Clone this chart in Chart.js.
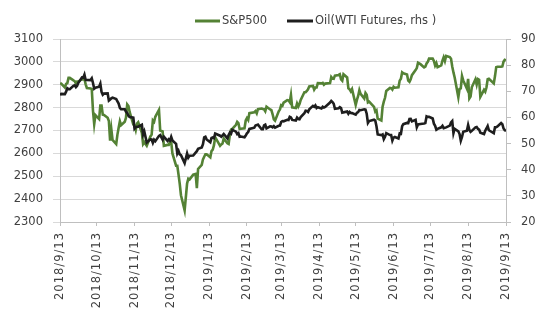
<!DOCTYPE html>
<html>
<head>
<meta charset="utf-8">
<script src="https://cdn.jsdelivr.net/npm/chart.js@4/dist/chart.umd.min.js"></script>
<style>
html,body{margin:0;padding:0;background:#fff;}
canvas{display:block;}
</style>
</head>
<body>
<canvas id="c" width="548" height="324"></canvas>
<script>
// Trading dates
const dates = [
"2018/9/13","2018/9/14","2018/9/17","2018/9/18","2018/9/19","2018/9/20","2018/9/21","2018/9/24","2018/9/25","2018/9/26","2018/9/27","2018/9/28",
"2018/10/1","2018/10/2","2018/10/3","2018/10/4","2018/10/5","2018/10/8","2018/10/9","2018/10/10","2018/10/11","2018/10/12","2018/10/15","2018/10/16","2018/10/17","2018/10/18","2018/10/19","2018/10/22","2018/10/23","2018/10/24","2018/10/25","2018/10/26","2018/10/29","2018/10/30","2018/10/31",
"2018/11/1","2018/11/2","2018/11/5","2018/11/6","2018/11/7","2018/11/8","2018/11/9","2018/11/12","2018/11/13","2018/11/14","2018/11/15","2018/11/16","2018/11/19","2018/11/20","2018/11/21","2018/11/23","2018/11/26","2018/11/27","2018/11/28","2018/11/29","2018/11/30",
"2018/12/3","2018/12/4","2018/12/6","2018/12/7","2018/12/10","2018/12/11","2018/12/12","2018/12/13","2018/12/14","2018/12/17","2018/12/18","2018/12/19","2018/12/20","2018/12/21","2018/12/24","2018/12/26","2018/12/27","2018/12/28","2018/12/31",
"2019/1/2","2019/1/3","2019/1/4","2019/1/7","2019/1/8","2019/1/9","2019/1/10","2019/1/11","2019/1/14","2019/1/15","2019/1/16","2019/1/17","2019/1/18","2019/1/22","2019/1/23","2019/1/24","2019/1/25","2019/1/28","2019/1/29","2019/1/30","2019/1/31",
"2019/2/1","2019/2/4","2019/2/5","2019/2/6","2019/2/7","2019/2/8","2019/2/11","2019/2/12","2019/2/13","2019/2/14","2019/2/15","2019/2/19","2019/2/20","2019/2/21","2019/2/22","2019/2/25","2019/2/26","2019/2/27","2019/2/28",
"2019/3/1","2019/3/4","2019/3/5","2019/3/6","2019/3/7","2019/3/8","2019/3/11","2019/3/12","2019/3/13","2019/3/14","2019/3/15","2019/3/18","2019/3/19","2019/3/20","2019/3/21","2019/3/22","2019/3/25","2019/3/26","2019/3/27","2019/3/28","2019/3/29",
"2019/4/1","2019/4/2","2019/4/3","2019/4/4","2019/4/5","2019/4/8","2019/4/9","2019/4/10","2019/4/11","2019/4/12","2019/4/15","2019/4/16","2019/4/17","2019/4/18","2019/4/22","2019/4/23","2019/4/24","2019/4/25","2019/4/26","2019/4/29","2019/4/30",
"2019/5/1","2019/5/2","2019/5/3","2019/5/6","2019/5/7","2019/5/8","2019/5/9","2019/5/10","2019/5/13","2019/5/14","2019/5/15","2019/5/16","2019/5/17","2019/5/20","2019/5/21","2019/5/22","2019/5/23","2019/5/24","2019/5/28","2019/5/29","2019/5/30","2019/5/31",
"2019/6/3","2019/6/4","2019/6/5","2019/6/6","2019/6/7","2019/6/10","2019/6/11","2019/6/12","2019/6/13","2019/6/14","2019/6/17","2019/6/18","2019/6/19","2019/6/20","2019/6/21","2019/6/24","2019/6/25","2019/6/26","2019/6/27","2019/6/28",
"2019/7/1","2019/7/2","2019/7/3","2019/7/5","2019/7/8","2019/7/9","2019/7/10","2019/7/11","2019/7/12","2019/7/15","2019/7/16","2019/7/17","2019/7/18","2019/7/19","2019/7/22","2019/7/23","2019/7/24","2019/7/25","2019/7/26","2019/7/29","2019/7/30","2019/7/31",
"2019/8/1","2019/8/2","2019/8/5","2019/8/6","2019/8/7","2019/8/8","2019/8/9","2019/8/12","2019/8/13","2019/8/14","2019/8/15","2019/8/16","2019/8/19","2019/8/20","2019/8/21","2019/8/22","2019/8/23","2019/8/26","2019/8/27","2019/8/28","2019/8/29","2019/8/30",
"2019/9/3","2019/9/4","2019/9/5","2019/9/6","2019/9/9","2019/9/10","2019/9/11","2019/9/12","2019/9/13"
];

// S&P500 (left axis)
const sp500 = [
2904,2905,2888,2904,2907,2930,2930,2919,2916,2906,2914,2914,
2924,2923,2926,2902,2886,2884,2881,2786,2728,2767,2750,2809,2809,2769,2768,2756,2741,2656,2706,2659,2641,2682,2712,
2740,2723,2738,2756,2814,2807,2781,2726,2722,2702,2730,2736,2690,2641,2649,2633,2674,2682,2744,2738,2760,
2790,2700,2696,2633,2637,2637,2651,2650,2600,2546,2546,2507,2467,2417,2351,2468,2489,2486,2507,
2510,2448,2532,2550,2574,2585,2596,2596,2583,2610,2616,2636,2671,2633,2639,2643,2665,2644,2641,2681,2704,
2707,2725,2738,2732,2707,2708,2710,2744,2754,2746,2776,2780,2785,2775,2793,2796,2794,2793,2784,
2804,2792,2789,2771,2749,2743,2784,2792,2811,2808,2822,2833,2832,2824,2855,2801,2798,2818,2805,2816,2834,
2867,2867,2873,2880,2893,2895,2879,2888,2888,2907,2906,2908,2900,2905,2907,2934,2927,2926,2940,2943,2946,
2924,2918,2946,2932,2884,2880,2871,2881,2812,2834,2851,2876,2860,2840,2864,2856,2823,2826,2803,2783,2788,2752,
2744,2804,2826,2843,2873,2886,2885,2879,2891,2887,2889,2918,2926,2954,2950,2945,2918,2913,2924,2942,
2964,2973,2996,2990,2976,2979,2993,3000,3014,3014,3004,2984,2995,2977,2985,3005,3020,3004,3026,3021,3014,2980,
2954,2932,2845,2882,2884,2938,2919,2883,2926,2840,2848,2889,2924,2901,2925,2922,2847,2878,2870,2888,2924,2926,
2906,2938,2977,2979,2979,2980,3001,3009,3007
];

// Oil (WTI futures, right axis)
const wti = [
68.59,68.99,68.91,69.85,71.12,70.80,70.78,72.08,72.28,71.57,72.12,73.25,
75.30,75.23,76.41,74.33,74.34,74.29,74.96,73.17,70.97,71.34,71.78,72.92,69.75,68.65,69.12,69.17,66.43,66.82,67.33,67.59,67.04,66.18,65.31,
63.69,63.14,63.10,62.21,61.67,60.67,60.19,59.93,55.69,56.25,56.46,56.46,57.20,53.43,54.63,50.42,51.63,51.56,50.29,51.45,50.93,
52.95,53.25,51.49,52.61,51.00,51.65,51.15,52.58,51.20,49.88,46.24,47.20,45.88,45.59,42.53,46.22,44.61,45.33,45.41,
46.54,47.09,47.96,48.52,49.78,52.36,52.59,51.59,50.51,52.11,52.31,52.07,53.80,53.01,52.62,53.13,53.69,51.99,53.31,54.23,53.79,
55.26,54.56,53.66,54.01,52.64,52.72,52.41,53.10,53.90,54.41,55.59,56.09,56.92,57.07,57.26,55.48,55.50,56.94,57.22,
55.80,56.59,56.56,56.22,56.66,56.07,56.79,56.87,58.26,58.61,58.52,59.09,59.03,60.23,59.98,59.04,58.82,59.94,59.41,59.30,60.14,
61.59,62.58,62.46,62.10,63.08,64.40,64.05,64.61,63.58,63.89,63.40,64.05,63.76,64.00,65.70,66.30,65.89,65.21,63.30,63.50,63.91,
63.60,61.81,61.94,62.25,61.40,62.12,61.70,61.66,61.04,61.78,62.02,62.87,62.76,63.10,62.99,61.42,57.91,58.63,59.14,58.81,56.59,53.50,
53.25,53.48,51.68,52.59,53.99,53.26,53.27,51.14,52.28,52.51,51.93,53.90,53.76,56.65,57.43,57.90,57.83,59.38,59.43,58.47,
59.09,56.25,57.34,57.51,57.66,57.83,60.43,60.20,60.21,59.58,57.62,56.78,55.30,55.63,56.22,56.77,55.88,56.02,56.20,56.87,58.05,58.58,
53.95,55.66,54.69,53.63,51.09,52.54,54.50,54.93,57.10,55.23,54.47,54.87,56.21,56.34,55.68,55.35,54.17,53.64,54.93,55.78,56.71,55.10,
53.94,56.26,56.30,56.52,57.85,57.40,55.75,55.09,54.85
];

// Axis tick labels
const xTickLabels = ["2018/9/13","2018/10/13","2018/11/13","2018/12/13","2019/1/13","2019/2/13","2019/3/13","2019/4/13","2019/5/13","2019/6/13","2019/7/13","2019/8/13","2019/9/13"];
const leftTicks = [2300,2400,2500,2600,2700,2800,2900,3000,3100];
const rightTicks = [20,30,40,50,60,70,80,90];
const seriesNames = ["S&P500","Oil(WTI Futures, rhs )"];

function dayNum(s){
  const p = s.split('/').map(Number);
  return Date.UTC(p[0], p[1]-1, p[2]) / 86400000;
}
const day0 = dayNum(xTickLabels[0]);
const dayOf = s => dayNum(s) - day0;
const xTickPos = xTickLabels.map(dayOf);

const spPts = dates.map((d,i)=>({x:dayOf(d), y:sp500[i]}));
const oilPts = dates.map((d,i)=>({x:dayOf(d), y:wti[i]}));

const GREEN = '#548235';
const BLACK = '#1e1e1e';
const TEXT = '#404040';
const FONT = "'DejaVu Sans', sans-serif";

const legendPlugin = {
  id: 'customLegend',
  afterUpdate(chart){
    const xs = chart.scales.x;
    if (xs && !xs._wrapped){
      const orig = xs.drawLabels.bind(xs);
      xs.drawLabels = function(area){
        const c = chart.ctx;
        c.save();
        c.letterSpacing = '1px';
        orig(area);
        c.restore();
      };
      xs._wrapped = true;
    }
  },
  afterDraw(chart){
    const c = chart.ctx;
    c.save();
    c.letterSpacing = '0px';
    c.font = "11.5px " + FONT;
    c.textBaseline = 'middle';
    c.fillStyle = TEXT;
    const y = 21;
    const items = [
      {x1:195, x2:220, color:GREEN, text:seriesNames[0]},
      {x1:287, x2:313, color:BLACK, text:seriesNames[1]}
    ];
    items.forEach(it=>{
      c.strokeStyle = it.color;
      c.lineWidth = 3;
      c.beginPath();
      c.moveTo(it.x1, y);
      c.lineTo(it.x2, y);
      c.stroke();
      c.fillText(it.text, it.x2 + 2, y + 0.5);
    });
    c.restore();
  }
};

new Chart(document.getElementById('c'), {
  type: 'line',
  data: {
    datasets: [
      {label: seriesNames[0], data: spPts, yAxisID: 'y', borderColor: GREEN, backgroundColor: GREEN, borderWidth: 2.6, pointRadius: 0, tension: 0, order: 1},
      {label: seriesNames[1], data: oilPts, yAxisID: 'y1', borderColor: BLACK, backgroundColor: BLACK, borderWidth: 2.6, pointRadius: 0, tension: 0, order: 0}
    ]
  },
  options: {
    responsive: false,
    animation: false,
    devicePixelRatio: 1,
    layout: {padding: {top: 39, left: 0, right: 0, bottom: 0}},
    plugins: {legend: {display: false}, tooltip: {enabled: false}},
    scales: {
      x: {
        type: 'linear',
        min: xTickPos[0],
        max: xTickPos[xTickPos.length-1],
        afterBuildTicks: s => { s.ticks = xTickPos.map(v => ({value: v})); },
        afterFit: s => { s.height = 102; },
        ticks: {
          autoSkip: false, maxRotation: 90, minRotation: 90, padding: 6,
          color: TEXT, font: {family: FONT, size: 11.5},
          callback: v => { const i = xTickPos.indexOf(v); return i >= 0 ? xTickLabels[i] : ''; }
        },
        grid: {drawOnChartArea: false, drawTicks: true, tickLength: 4, color: '#bfbfbf'},
        border: {display: true, color: '#bfbfbf', width: 1}
      },
      y: {
        position: 'left',
        min: leftTicks[0], max: leftTicks[leftTicks.length-1],
        afterBuildTicks: s => { s.ticks = leftTicks.map(v => ({value: v})); },
        afterFit: s => { s.width = 60; },
        ticks: {color: TEXT, font: {family: FONT, size: 11.5}, padding: 10, callback: v => String(v)},
        grid: {color: '#d9d9d9', tickLength: 7, drawTicks: true},
        border: {display: true, color: '#bfbfbf', width: 1}
      },
      y1: {
        position: 'right',
        min: rightTicks[0], max: rightTicks[rightTicks.length-1],
        afterBuildTicks: s => { s.ticks = rightTicks.map(v => ({value: v})); },
        afterFit: s => { s.width = 42; },
        ticks: {color: TEXT, font: {family: FONT, size: 11.5}, padding: 10, callback: v => String(v)},
        grid: {drawOnChartArea: false, tickLength: 5, color: '#bfbfbf', drawTicks: true},
        border: {display: true, color: '#bfbfbf', width: 1}
      }
    }
  },
  plugins: [legendPlugin]
});
</script>
</body>
</html>
